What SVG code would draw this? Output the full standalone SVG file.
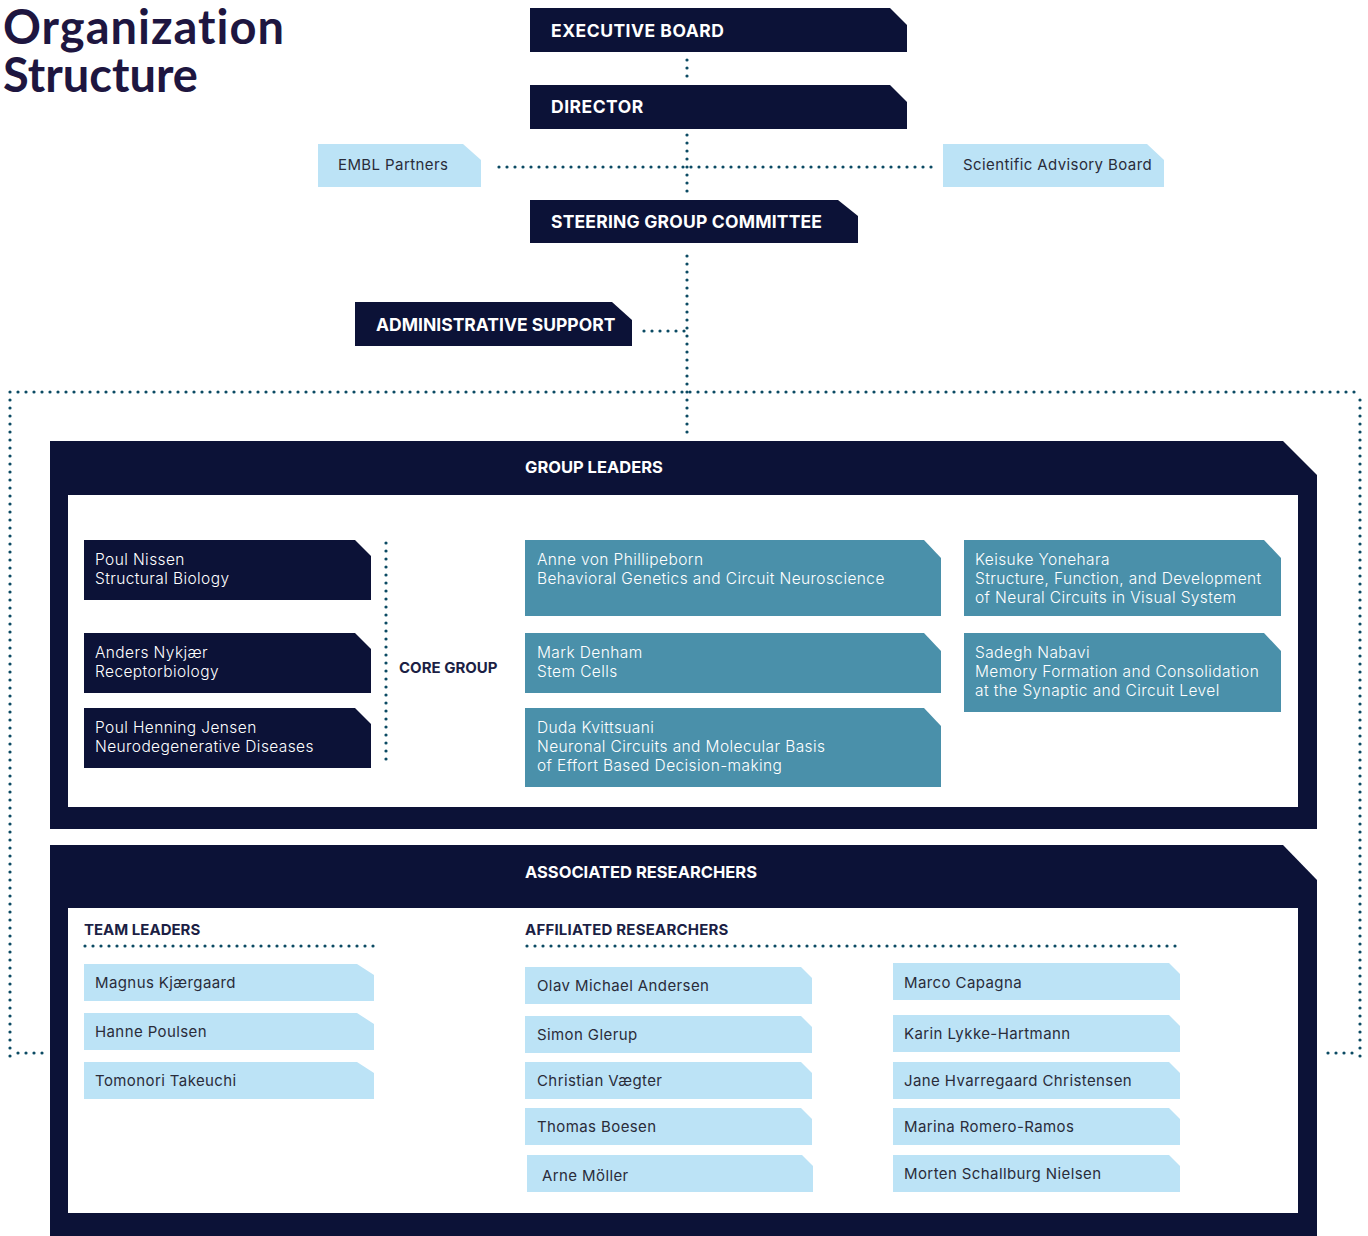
<svg xmlns="http://www.w3.org/2000/svg" width="1368" height="1236" viewBox="0 0 1368 1236">
<style>
.navy{fill:#0c1237}
.lb{fill:#bce3f6}
.teal{fill:#4a90aa}
.white{fill:#ffffff}
.dot{fill:none;stroke:#0b4a63;stroke-width:3.2;stroke-linecap:round;stroke-dasharray:0 8}
.title{font-family:Lato,"Liberation Sans",sans-serif;font-weight:700;font-size:47px;fill:#1e1640}
.hw{font-family:Inter,"Liberation Sans",sans-serif;font-weight:700;font-size:17.5px;fill:#ffffff;letter-spacing:0.2px}
.ph{font-family:Inter,"Liberation Sans",sans-serif;font-weight:700;font-size:16.5px;fill:#ffffff;letter-spacing:0px}
.sub{font-family:Inter,"Liberation Sans",sans-serif;font-weight:700;font-size:15px;fill:#1c1f45}
.tw{font-family:Inter,"Liberation Sans",sans-serif;font-weight:300;font-size:15.5px;fill:#ffffff;letter-spacing:0.4px}
.td{font-family:Inter,"Liberation Sans",sans-serif;font-weight:400;font-size:15px;fill:#2a2c3a;letter-spacing:0.4px}
</style>
<text class="title" x="3" y="44" style="letter-spacing:1px">Organization</text>
<text class="title" x="3" y="92">Structure</text>

<g id="executive-board">
<polygon class="navy" points="530,8 890,8 907,25 907,52 530,52"/>
<text class="hw" x="551" y="37" style="letter-spacing:0.5px">EXECUTIVE BOARD</text>
</g>
<g id="director">
<polygon class="navy" points="530,85 890,85 907,102 907,129 530,129"/>
<text class="hw" x="551" y="113" style="letter-spacing:0.5px">DIRECTOR</text>
</g>
<g id="embl-partners">
<polygon class="lb" points="318,144 463,144 481,160 481,187 318,187"/>
<text class="td" x="338" y="170">EMBL Partners</text>
</g>
<g id="scientific-advisory-board">
<polygon class="lb" points="943,144 1147,144 1164,160 1164,187 943,187"/>
<text class="td" x="963" y="170">Scientific Advisory Board</text>
</g>
<g id="steering-group">
<polygon class="navy" points="530,200 838,200 858,216 858,243 530,243"/>
<text class="hw" x="551" y="228">STEERING GROUP COMMITTEE</text>
</g>
<g id="administrative-support">
<polygon class="navy" points="355,302 612,302 632,320 632,346 355,346"/>
<text class="hw" x="376" y="331" style="letter-spacing:0px">ADMINISTRATIVE SUPPORT</text>
</g>

<g id="group-leaders">
<polygon class="navy" points="50,441 1283,441 1317,475 1317,829 50,829"/>
<rect class="white" x="68" y="495" width="1230" height="312"/>
<text class="ph" x="525" y="473">GROUP LEADERS</text>
</g>
<g id="core-group-label">
<text class="sub" x="399" y="673">CORE GROUP</text>
</g>
<g id="poul-nissen">
<polygon class="navy" points="84,540 355,540 371,556 371,600 84,600"/>
<text class="tw" x="95" y="565">Poul Nissen</text>
<text class="tw" x="95" y="584">Structural Biology</text>
</g>
<g id="anders-nykjaer">
<polygon class="navy" points="84,633 355,633 371,649 371,693 84,693"/>
<text class="tw" x="95" y="658">Anders Nykjær</text>
<text class="tw" x="95" y="677">Receptorbiology</text>
</g>
<g id="poul-henning-jensen">
<polygon class="navy" points="84,708 355,708 371,724 371,768 84,768"/>
<text class="tw" x="95" y="733">Poul Henning Jensen</text>
<text class="tw" x="95" y="752">Neurodegenerative Diseases</text>
</g>
<g id="anne-von-phillipeborn">
<polygon class="teal" points="525,540 924,540 941,558 941,616 525,616"/>
<text class="tw" x="537" y="565">Anne von Phillipeborn</text>
<text class="tw" x="537" y="584">Behavioral Genetics and Circuit Neuroscience</text>
</g>
<g id="mark-denham">
<polygon class="teal" points="525,633 924,633 941,651 941,693 525,693"/>
<text class="tw" x="537" y="658">Mark Denham</text>
<text class="tw" x="537" y="677">Stem Cells</text>
</g>
<g id="duda-kvittsuani">
<polygon class="teal" points="525,708 924,708 941,726 941,787 525,787"/>
<text class="tw" x="537" y="733">Duda Kvittsuani</text>
<text class="tw" x="537" y="752">Neuronal Circuits and Molecular Basis</text>
<text class="tw" x="537" y="771">of Effort Based Decision-making</text>
</g>
<g id="keisuke-yonehara">
<polygon class="teal" points="964,540 1264,540 1281,558 1281,616 964,616"/>
<text class="tw" x="975" y="565">Keisuke Yonehara</text>
<text class="tw" x="975" y="584">Structure, Function, and Development</text>
<text class="tw" x="975" y="603">of Neural Circuits in Visual System</text>
</g>
<g id="sadegh-nabavi">
<polygon class="teal" points="964,633 1264,633 1281,651 1281,712 964,712"/>
<text class="tw" x="975" y="658">Sadegh Nabavi</text>
<text class="tw" x="975" y="677">Memory Formation and Consolidation</text>
<text class="tw" x="975" y="696">at the Synaptic and Circuit Level</text>
</g>

<g id="associated-researchers">
<polygon class="navy" points="50,845 1283,845 1317,880 1317,1236 50,1236"/>
<rect class="white" x="68" y="908" width="1230" height="305"/>
<text class="ph" x="525" y="878">ASSOCIATED RESEARCHERS</text>
<text class="sub" x="84" y="935">TEAM LEADERS</text>
<text class="sub" x="525" y="935" style="letter-spacing:0.2px">AFFILIATED RESEARCHERS</text>
</g>

<g id="magnus-kjaergaard">
<polygon class="lb" points="84,964 357,964 374,975 374,1001 84,1001"/>
<text class="td" x="95" y="988">Magnus Kjærgaard</text>
</g>
<g id="hanne-poulsen">
<polygon class="lb" points="84,1013 357,1013 374,1024 374,1050 84,1050"/>
<text class="td" x="95" y="1037">Hanne Poulsen</text>
</g>
<g id="tomonori-takeuchi">
<polygon class="lb" points="84,1062 357,1062 374,1073 374,1099 84,1099"/>
<text class="td" x="95" y="1086">Tomonori Takeuchi</text>
</g>

<g id="olav-michael-andersen">
<polygon class="lb" points="525,967 801,967 812,978 812,1004 525,1004"/>
<text class="td" x="537" y="991">Olav Michael Andersen</text>
</g>
<g id="simon-glerup">
<polygon class="lb" points="525,1016 801,1016 812,1027 812,1053 525,1053"/>
<text class="td" x="537" y="1040">Simon Glerup</text>
</g>
<g id="christian-vaegter">
<polygon class="lb" points="525,1062 801,1062 812,1073 812,1099 525,1099"/>
<text class="td" x="537" y="1086">Christian Vægter</text>
</g>
<g id="thomas-boesen">
<polygon class="lb" points="525,1108 801,1108 812,1119 812,1145 525,1145"/>
<text class="td" x="537" y="1132">Thomas Boesen</text>
</g>
<g id="arne-moller">
<polygon class="lb" points="527,1155 802,1155 813,1166 813,1192 527,1192"/>
<text class="td" x="542" y="1181">Arne Möller</text>
</g>

<g id="marco-capagna">
<polygon class="lb" points="893,963 1169,963 1180,974 1180,1000 893,1000"/>
<text class="td" x="904" y="988">Marco Capagna</text>
</g>
<g id="karin-lykke-hartmann">
<polygon class="lb" points="893,1015 1169,1015 1180,1026 1180,1052 893,1052"/>
<text class="td" x="904" y="1039">Karin Lykke-Hartmann</text>
</g>
<g id="jane-hvarregaard-christensen">
<polygon class="lb" points="893,1062 1169,1062 1180,1073 1180,1099 893,1099"/>
<text class="td" x="904" y="1086">Jane Hvarregaard Christensen</text>
</g>
<g id="marina-romero-ramos">
<polygon class="lb" points="893,1108 1169,1108 1180,1119 1180,1145 893,1145"/>
<text class="td" x="904" y="1132">Marina Romero-Ramos</text>
</g>
<g id="morten-schallburg-nielsen">
<polygon class="lb" points="893,1155 1169,1155 1180,1166 1180,1192 893,1192"/>
<text class="td" x="904" y="1179">Morten Schallburg Nielsen</text>
</g>

<g id="connectors">
<line class="dot" x1="687" y1="60" x2="687" y2="77"/>
<line class="dot" x1="687" y1="135" x2="687" y2="192"/>
<line class="dot" x1="499" y1="167" x2="932" y2="167"/>
<line class="dot" x1="687" y1="256" x2="687" y2="437"/>
<line class="dot" x1="644" y1="331" x2="685" y2="331"/>
<line class="dot" x1="10" y1="392" x2="1362" y2="392"/>
<line class="dot" x1="10" y1="400" x2="10" y2="1057"/>
<line class="dot" x1="1360" y1="400" x2="1360" y2="1057"/>
<line class="dot" x1="18" y1="1053" x2="43" y2="1053"/>
<line class="dot" x1="1328" y1="1053" x2="1353" y2="1053"/>
<line class="dot" x1="386" y1="543" x2="386" y2="764"/>
<line class="dot" x1="85" y1="946" x2="374" y2="946"/>
<line class="dot" x1="527" y1="946" x2="1176" y2="946"/>
</g>
</svg>
